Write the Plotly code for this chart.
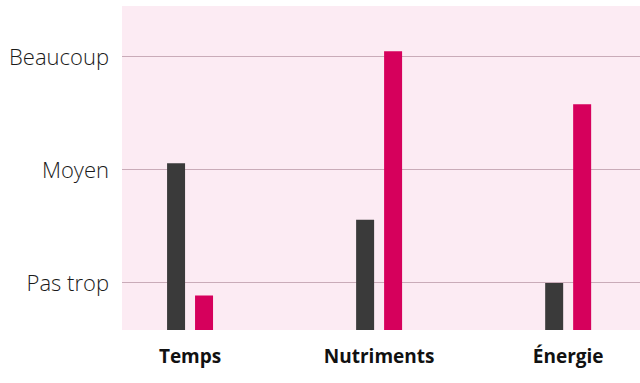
import plotly.graph_objects as go

categories = ["Temps", "Nutriments", "Énergie"]
series_dark = [2.06, 1.56, 1.0]
series_pink = [0.89, 3.05, 2.58]
level_vals = [1, 2, 3]
level_labels = ["Pas trop", "Moyen", "Beaucoup"]

fig = go.Figure()
fig.add_trace(go.Bar(x=categories, y=series_dark, marker_color="#3a3a3a", marker_line_width=0, showlegend=False))
fig.add_trace(go.Bar(x=categories, y=series_pink, marker_color="#d6005c", marker_line_width=0, showlegend=False))

fig.update_layout(
    width=640, height=383,
    margin=dict(l=122, r=0, t=6, b=53),
    paper_bgcolor="white",
    plot_bgcolor="#fcebf3",
    barmode="group",
    bargap=0.704,
    bargroupgap=0.357,
    font=dict(family="Open Sans, sans-serif", color="#111111"),
)
fig.update_xaxes(
    range=[-0.36, 2.38],
    showgrid=False, zeroline=False, showline=False,
    tickfont=dict(size=19, family="Open Sans", color="#111111", weight="bold"),
    ticklabelstandoff=13,
)
fig.update_yaxes(
    range=[0.584, 3.45],
    tickvals=level_vals, ticktext=level_labels,
    showgrid=True, gridcolor="#c9abb8", gridwidth=1,
    zeroline=False, showline=False,
    tickfont=dict(size=22, family="Open Sans", color="#1a1a1a", weight=300),
    ticklabelstandoff=12,
)
fig.write_html(
    "out.html",
    config={"displayModeBar": False},
    post_script="document.body.style.margin='0';document.body.style.overflow='hidden';",
)
